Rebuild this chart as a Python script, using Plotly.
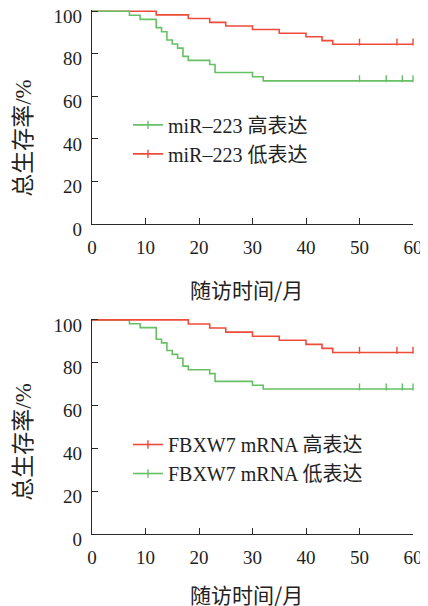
import plotly.graph_objects as go

# ---------------- data ----------------
x_ticks = [0, 10, 20, 30, 40, 50, 60]
y_ticks = [0, 20, 40, 60, 80, 100]

# Panel 1: miR-223
mir_high_t = [0, 7, 9, 12, 13, 14, 15, 16, 17, 18, 22, 23, 30, 32, 60]
mir_high_s = [100, 98.1, 96.2, 92.3, 90.4, 86.5, 84.6, 82.7, 78.8, 76.9, 75.0, 71.2, 69.2, 67.3, 67.3]
mir_high_c = [50, 55, 58, 60]
mir_low_t = [0, 12, 18, 22, 25, 30, 35, 40, 43, 45, 60]
mir_low_s = [100, 98.3, 96.6, 94.8, 93.1, 91.4, 89.7, 88.0, 86.2, 84.5, 84.5]
mir_low_c = [50, 57, 60]

# Panel 2: FBXW7 mRNA
fb_high_t = [0, 18, 22, 25, 30, 35, 40, 43, 45, 60]
fb_high_s = [100, 98.1, 96.2, 94.3, 92.4, 90.5, 88.6, 86.7, 84.8, 84.8]
fb_high_c = [50, 57, 60]
fb_low_t = [0, 7, 9, 12, 13, 14, 15, 16, 17, 18, 22, 23, 30, 32, 60]
fb_low_s = [100, 98.2, 96.4, 91.0, 89.3, 85.7, 83.9, 82.1, 78.4, 76.7, 74.9, 71.3, 69.5, 67.7, 67.7]
fb_low_c = [50, 55, 58, 60]

names_1 = ["miR–223 高表达", "miR–223 低表达"]
names_2 = ["FBXW7 mRNA 高表达", "FBXW7 mRNA 低表达"]
x_title = "随访时间/月"
y_title = "总生存率/%"

RED = "#ee4b3b"
GREEN = "#66c066"
AXIS = "#2a2a2a"
SERIF = "Liberation Serif, Noto Sans CJK SC, serif"
CJK = "Noto Sans CJK SC, sans-serif"
TICK_UP = 1.0  # censor tick lifted slightly above the curve (data units)


def surv_at(t, times, surv):
    v = surv[0]
    for tt, ss in zip(times, surv):
        if tt <= t:
            v = ss
    return v


fig = go.Figure()


def add_curve(times, surv, cens, color, xa, ya):
    fig.add_trace(go.Scatter(x=times, y=surv, mode="lines", line=dict(color=color, width=1.6, shape="hv"),
                             showlegend=False, xaxis=xa, yaxis=ya, hoverinfo="skip"))
    fig.add_trace(go.Scatter(x=cens, y=[surv_at(c, times, surv) + TICK_UP for c in cens], mode="markers",
                             marker=dict(symbol="line-ns", size=5, line=dict(color=color, width=1.4)),
                             showlegend=False, xaxis=xa, yaxis=ya, cliponaxis=False, hoverinfo="skip"))


def add_legend(name, color, legend):
    fig.add_trace(go.Scatter(x=[None], y=[None], mode="lines+markers", name=name,
                             line=dict(color=color, width=1.6),
                             marker=dict(symbol="line-ns", size=6, line=dict(color=color, width=1.4)),
                             legend=legend))


# panel 1 (green drawn above red)
add_curve(mir_low_t, mir_low_s, mir_low_c, RED, "x", "y")
add_curve(mir_high_t, mir_high_s, mir_high_c, GREEN, "x", "y")
add_legend(names_1[0], GREEN, "legend")
add_legend(names_1[1], RED, "legend")

# panel 2 (red drawn above green)
add_curve(fb_low_t, fb_low_s, fb_low_c, GREEN, "x2", "y2")
add_curve(fb_high_t, fb_high_s, fb_high_c, RED, "x2", "y2")
add_legend(names_2[0], RED, "legend2")
add_legend(names_2[1], GREEN, "legend2")

xaxis_style = dict(range=[0, 60], tickvals=x_ticks, ticks="inside", ticklen=6, tickwidth=1.2,
                   tickcolor=AXIS, showline=True, linecolor=AXIS, linewidth=1.3, showgrid=False,
                   zeroline=False, tickfont=dict(family=SERIF, size=19, color="#1e1e1e"),
                   ticklabelstandoff=6, automargin=False, ticklabeloverflow="allow")
yaxis_style = dict(range=[0, 100.6], tickvals=y_ticks, ticks="inside", ticklen=6, tickwidth=1.2,
                   tickcolor=AXIS, showline=True, linecolor=AXIS, linewidth=1.3, showgrid=False,
                   zeroline=False, tickfont=dict(family=SERIF, size=19, color="#1e1e1e"),
                   ticklabelstandoff=5, ticklabelshift=5, automargin=False, ticklabeloverflow="allow")

legend_style = dict(font=dict(family=SERIF, size=20, color="#222"), bgcolor="rgba(0,0,0,0)",
                    borderwidth=0, xanchor="left", yanchor="top", itemclick=False)

# the page body adds an 8px margin, so the figure is 8px smaller in each direction
fig.update_layout(
    width=420, height=598,
    margin=dict(l=84, r=15, t=2, b=72, autoexpand=False),
    paper_bgcolor="white", plot_bgcolor="white",
    xaxis=dict(domain=[0, 1], anchor="y", **xaxis_style),
    yaxis=dict(domain=[0.5916, 1], anchor="x", **yaxis_style),
    xaxis2=dict(domain=[0, 1], anchor="y2", **xaxis_style),
    yaxis2=dict(domain=[0, 0.411], anchor="x2", **yaxis_style),
    legend=dict(x=0.112, y=0.818, **legend_style),
    legend2=dict(x=0.112, y=0.208, **legend_style),
)

ann_font = dict(family=CJK, size=21, color="#222")
ytitle_font = dict(family=SERIF, size=23, color="#222")

fig.add_annotation(text=y_title, xref="paper", yref="paper", x=-0.212, y=0.756, textangle=-90,
                   showarrow=False, xanchor="center", yanchor="middle", font=ytitle_font)
fig.add_annotation(text=y_title, xref="paper", yref="paper", x=-0.212, y=0.176, textangle=-90,
                   showarrow=False, xanchor="center", yanchor="middle", font=ytitle_font)
fig.add_annotation(text=x_title, xref="paper", yref="paper", x=0.48, y=0.4676,
                   showarrow=False, xanchor="center", yanchor="middle", font=ann_font)
fig.add_annotation(text=x_title, xref="paper", yref="paper", x=0.48, y=-0.114,
                   showarrow=False, xanchor="center", yanchor="middle", font=ann_font)

fig.write_html("out.html")
